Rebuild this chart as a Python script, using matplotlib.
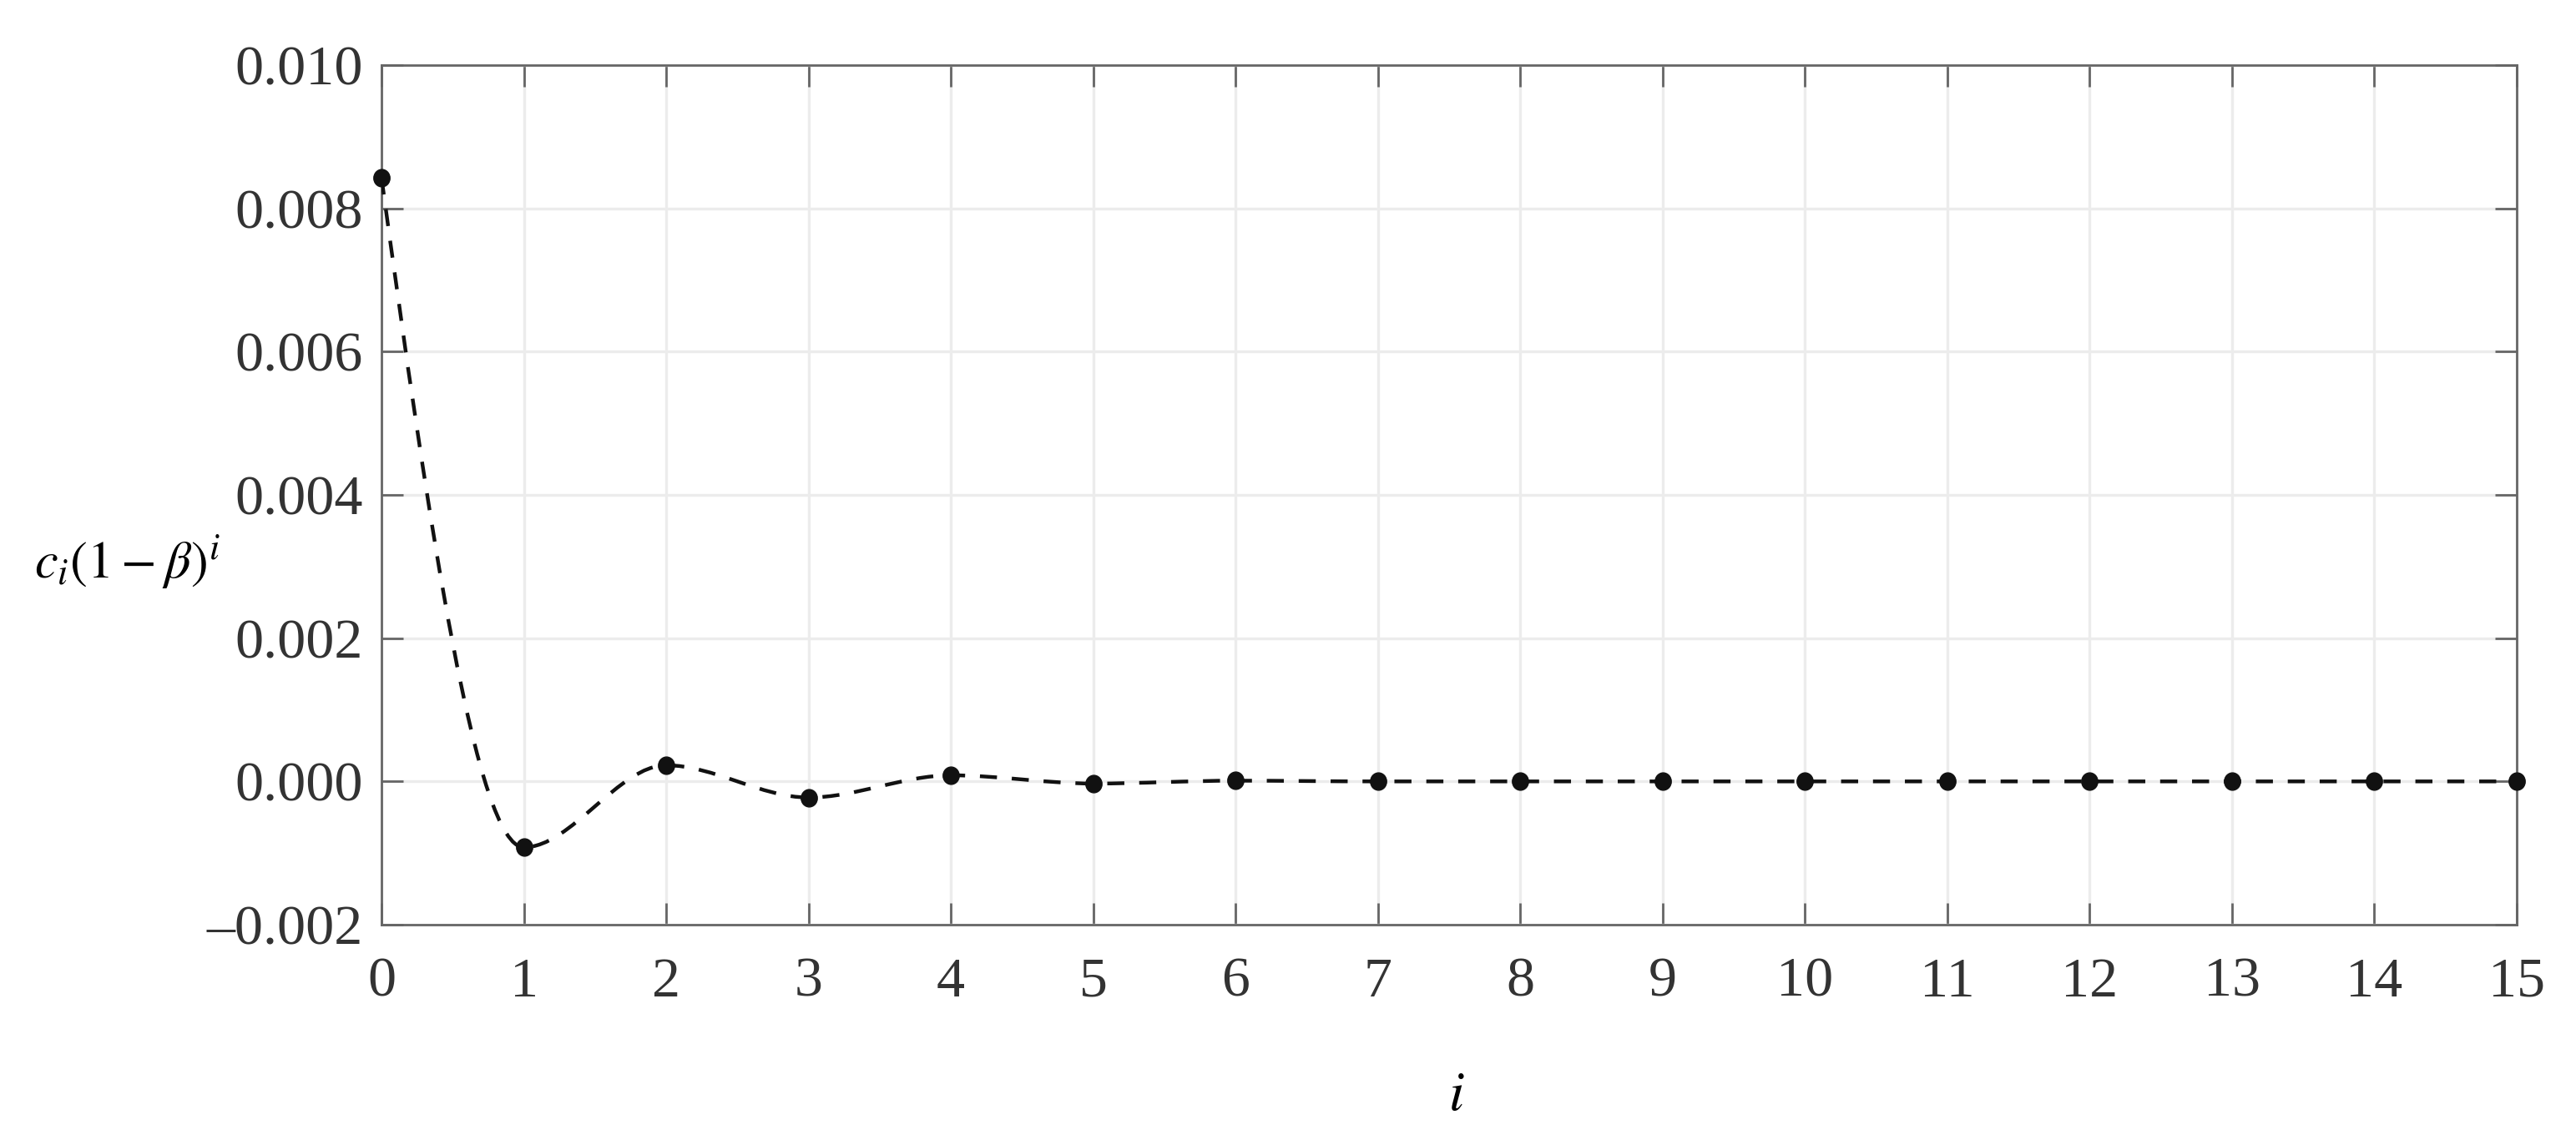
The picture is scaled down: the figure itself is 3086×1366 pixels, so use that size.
import numpy as np
import matplotlib
matplotlib.use("Agg")
import matplotlib.pyplot as plt
from matplotlib.path import Path
from matplotlib.patches import PathPatch
from matplotlib.markers import MarkerStyle
from matplotlib.transforms import Affine2D
from matplotlib.ticker import FuncFormatter

plt.rcParams['font.family'] = ['Liberation Serif', 'DejaVu Serif']
plt.rcParams['mathtext.fontset'] = 'stix'

# data
idx = np.arange(16)
vals = [0.00843, -0.00092, 0.000225, -0.000225, 0.000085, -0.00003,
        0.00001, 0.0, 0.0, 0.0, 0.0, 0.0, 0.0, 0.0, 0.0, 0.0]
yticks = [-0.002, 0.0, 0.002, 0.004, 0.006, 0.008, 0.010]
xticks = list(range(16))


def pchip_slopes(x, y):
    # shape-preserving slopes (same rule as matlab pchip)
    x = np.asarray(x, float); y = np.asarray(y, float)
    h = np.diff(x); dl = np.diff(y) / h
    d = np.zeros_like(y)
    for k in range(1, len(x) - 1):
        if dl[k-1] * dl[k] > 0:
            w1 = 2*h[k] + h[k-1]; w2 = h[k] + 2*h[k-1]
            d[k] = (w1 + w2) / (w1/dl[k-1] + w2/dl[k])
    def end(h0, h1, d0, d1):
        s = ((2*h0 + h1)*d0 - h0*d1) / (h0 + h1)
        if np.sign(s) != np.sign(d0):
            s = 0.0
        elif np.sign(d0) != np.sign(d1) and abs(s) > abs(3*d0):
            s = 3*d0
        return s
    d[0] = end(h[0], h[1], dl[0], dl[1])
    d[-1] = end(h[-1], h[-2], dl[-1], dl[-2])
    return d


fig = plt.figure(figsize=(30.86, 13.66), dpi=100)
ax = fig.add_axes([0.1481, 0.1889, 0.8289, 0.7540])

# smooth dashed curve through the points (cubic bezier segments)
d = pchip_slopes(idx, vals)
verts = [(idx[0], vals[0])]
codes = [Path.MOVETO]
for k in range(len(idx) - 1):
    hk = idx[k+1] - idx[k]
    verts += [(idx[k] + hk/3, vals[k] + d[k]*hk/3),
              (idx[k+1] - hk/3, vals[k+1] - d[k+1]*hk/3),
              (idx[k+1], vals[k+1])]
    codes += [Path.CURVE4]*3
ax.add_patch(PathPatch(Path(verts, codes), fill=False, edgecolor='#111111',
                       lw=3.2, linestyle=(0, (4.6, 4.0)), zorder=3))

mk = MarkerStyle('o', transform=Affine2D().scale(0.93, 1.0))
ax.plot(idx, vals, ls='none', marker=mk, ms=15, color='#111111', zorder=4,
        clip_on=False)

ax.set_xlim(0, 15)
ax.set_ylim(-0.002, 0.010)
ax.set_xticks(xticks)
ax.set_yticks(yticks)
ax.yaxis.set_major_formatter(FuncFormatter(lambda v, p: f"{v:.3f}".replace('-', '\u2013')))
ax.grid(True, color='#ececec', lw=2.4)
ax.set_axisbelow(True)

for s in ax.spines.values():
    s.set_color('#666666')
    s.set_linewidth(2.0)
ax.tick_params(direction='in', length=19, width=2.0, color='#666666',
               top=True, right=True, labelsize=49, labelcolor='#333333')
ax.tick_params(axis='x', pad=28)
ax.tick_params(axis='y', pad=16)

ax.set_xlabel(r'$i$', fontsize=48)
ax.xaxis.set_label_coords(0.5035, -0.20)
ax.xaxis.label.set_va('center')
ax.set_ylabel(r'$c_i(1-\beta)^i$', fontsize=45, rotation=0, ha='left', va='center')
ax.yaxis.set_label_coords(-0.1626, 0.421)

fig.savefig('out.png', dpi=100)
